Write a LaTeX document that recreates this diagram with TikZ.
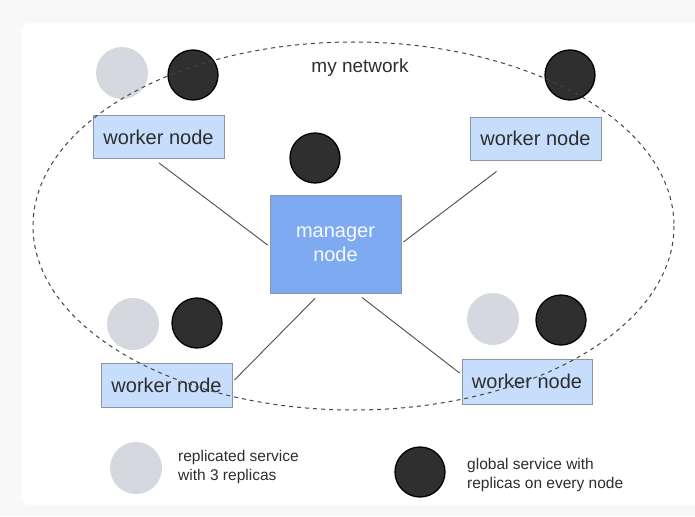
\documentclass[tikz,border=0pt]{standalone}
\usepackage{fontspec}
\setmainfont{Liberation Sans}
\usetikzlibrary{calc}
\definecolor{pagebg}{HTML}{F8F8F8}
\definecolor{txt}{HTML}{2E2E2E}
\definecolor{workerfill}{HTML}{C6DDFB}
\definecolor{mgrfill}{HTML}{7EAAF2}
\definecolor{boxline}{HTML}{8A96A6}
\definecolor{repl}{HTML}{D5D8DF}
\definecolor{glob}{HTML}{2F2F2F}
\definecolor{netline}{HTML}{444444}
\tikzset{
  worker/.style={draw=boxline, line width=0.9pt, fill=workerfill, minimum width=131pt, minimum height=43pt, inner sep=0pt, text=txt, font=\fontsize{20}{24}\selectfont},
  manager/.style={draw=boxline, line width=0.9pt, fill=mgrfill, minimum width=131pt, minimum height=98pt, inner sep=0pt, text=white!93!mgrfill, align=center, font=\fontsize{20}{24}\selectfont},
  replsvc/.style={circle, fill=repl, minimum size=52pt, inner sep=0pt},
  globsvc/.style={circle, fill=glob, draw=black, line width=1.3pt, minimum size=50pt, inner sep=0pt},
  link/.style={draw=txt!85, line width=0.9pt},
  legendtxt/.style={anchor=west, align=left, text=txt, font=\fontsize{15.5}{19}\selectfont, inner sep=0pt},
}
\begin{document}
\begin{tikzpicture}[x=1pt, y=-1pt]
\useasboundingbox (0,0) rectangle (695,516);
\fill[pagebg] (0,0) rectangle (695,516);
\fill[white, rounded corners=7pt] (22,23) rectangle (710,505);

% worker and manager boxes
\node[worker] (tlw) at (158.5,137) {worker node};
\node[worker] (trw) at (535.5,138.5) {worker node};
\node[worker, minimum height=44pt] (blw) at (166.5,385) {worker node};
\node[worker, minimum width=130pt, minimum height=45pt] (brw) at (527,381.5) {worker node};
\node[manager] (mgr) at (335.5,244) {manager\\node};

% services
\node[replsvc] (tlr) at (122,73) {};
\node[globsvc] (tlg) at (193,75) {};
\node[globsvc] (trg) at (570,75) {};
\node[globsvc] (mg) at (315,158) {};
\node[replsvc] (blr) at (133,324) {};
\node[globsvc] (blg) at (197,323) {};
\node[replsvc] (brr) at (493,319) {};
\node[globsvc] (brg) at (561,320) {};

% connectors
\draw[link] ($(tlw.south)+(0.5,4)$) -- ($(mgr.west)+(-2,1)$);
\draw[link] ($(trw.south west)+(27,11)$) -- ($(mgr.east)+(2,-2)$);
\draw[link] ($(mgr.south)+(-20.5,5)$) -- ($(blw.east)+(2,-5)$);
\draw[link] ($(mgr.south)+(26.5,4)$) -- ($(brw.west)+(-2,-8.5)$);

% network boundary
\draw[netline, line width=1pt, dash pattern=on 4pt off 4pt] (353.5,226) ellipse [x radius=320.5, y radius=184];
\node[text=txt, font=\fontsize{19}{23}\selectfont, inner sep=0pt] (net) at (360,68) {my network};

% legend
\node[replsvc] (lgr) at (136,468) {};
\node[legendtxt] (lgrt) at (178,467) {replicated service\\with 3 replicas};
\node[globsvc] (lgg) at (420,472) {};
\node[legendtxt] (lggt) at (467,475) {global service with\\replicas on every node};
\end{tikzpicture}
\end{document}
